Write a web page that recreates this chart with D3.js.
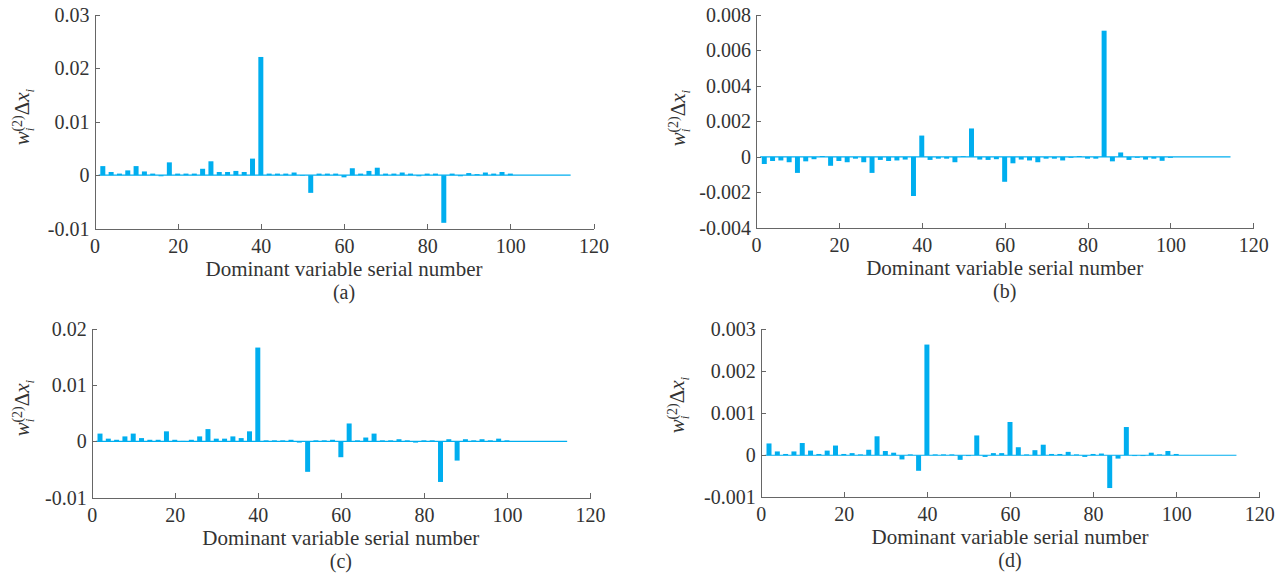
<!DOCTYPE html>
<html>
<head>
<meta charset="utf-8">
<script src="https://cdn.jsdelivr.net/npm/d3@7"></script>
<style>
  body { margin: 0; background: #fff; }
  svg { display: block; }
  .axis path, .axis line { stroke: #666; shape-rendering: crispEdges; }
  .axis text { fill: #333; }
  .title, .ylabel { fill: #333; }
</style>
</head>
<body>
<svg class="plot"></svg>
<script>
const width = 1283, height = 576;
const serif = "Liberation Serif";

// serial numbers of the dominant variables (same for all four panels)
const serials = [2, 4, 6, 8, 10, 12, 14, 16, 18, 20, 22, 24, 26, 28, 30, 32, 34, 36, 38, 40,
                 42, 44, 46, 48, 50, 52, 54, 56, 58, 60, 62, 64, 66, 68, 70, 72, 74, 76, 78, 80,
                 82, 84, 86, 88, 90, 92, 94, 96, 98, 100];

const valuesA = [0.0017, 0.0006, 0.0003, 0.0009, 0.0017, 0.0007, 0.0003, -0.0002, 0.0024, 0.0003,
                 0.0003, 0.0003, 0.0012, 0.0026, 0.0006, 0.0006, 0.0008, 0.0006, 0.0031, 0.0221,
                 0.0003, 0.0003, 0.0003, 0.0005, -0.0001, -0.0033, 0.0003, 0.0003, 0.0003, -0.0004,
                 0.0013, 0.0003, 0.0008, 0.0014, 0.0003, 0.0003, 0.0005, 0.0003, -0.0002, 0.0003,
                 0.0003, -0.0089, 0.0003, -0.0002, 0.0004, 0.0002, 0.0005, 0.0003, 0.0006, 0.0003];

const valuesB = [-0.0004, -0.00023, -0.0002, -0.0003, -0.0009, -0.00025, -0.00013, 0.00005, -0.0005, -0.00023,
                 -0.0003, -0.0001, -0.0003, -0.0009, -0.00017, -0.00023, -0.0002, -0.00015, -0.0022, 0.0012,
                 -0.00017, -0.0001, -0.0001, -0.0003, 0.00004, 0.0016, -0.00015, -0.00017, -0.00013, -0.0014,
                 -0.00036, -0.00015, -0.0002, -0.0003, -0.0001, -0.0001, -0.0002, -0.00005, 0.00005, -0.0001,
                 -0.0001, 0.0071, -0.00025, 0.00025, -0.00017, -0.00005, -0.00015, -0.0001, -0.00022, -0.00005];

const valuesC = [0.0014, 0.0005, 0.0003, 0.0009, 0.0014, 0.0006, 0.0003, 0.0003, 0.0018, 0.0003,
                 0.0001, 0.0003, 0.0009, 0.0022, 0.0005, 0.0005, 0.0009, 0.0006, 0.0018, 0.0167,
                 0.0002, 0.0002, 0.0002, 0.0003, -0.0002, -0.0054, 0.0002, 0.0002, 0.0003, -0.0028,
                 0.0032, 0.0002, 0.0007, 0.0014, 0.0002, 0.0002, 0.0004, 0.0002, -0.0002, 0.0002,
                 0.0002, -0.0072, 0.0004, -0.0034, 0.0004, 0.0002, 0.0004, 0.0002, 0.0005, 0.0002];

const valuesD = [0.00028, 0.00009, 0.00003, 0.00009, 0.00029, 0.00011, 0.00003, 0.00011, 0.00023, 0.00003,
                 0.00005, 0.00002, 0.00013, 0.00045, 0.0001, 0.00006, -0.0001, 0.00002, -0.00037, 0.00263,
                 0.00002, 0.00002, 0.00002, -0.00011, -0.00002, 0.00047, -0.00004, 0.00005, 0.00005, 0.00079,
                 0.00019, 0.00002, 0.00012, 0.00025, 0.00003, 0.00003, 0.00008, 0.00002, -0.00004, 0.00003,
                 0.00004, -0.00078, -0.00008, 0.00067, -0.00002, -0.00002, 0.00006, 0.00002, 0.0001, 0.00003];

// tick values
const xTicks = [0, 20, 40, 60, 80, 100, 120];
const yTicksA = [-0.01, 0, 0.01, 0.02, 0.03];
const yTicksB = [-0.004, -0.002, 0, 0.002, 0.004, 0.006, 0.008];
const yTicksC = [-0.01, 0, 0.01, 0.02];
const yTicksD = [-0.001, 0, 0.001, 0.002, 0.003];

const panelLabels = ["(a)", "(b)", "(c)", "(d)"];
const xTitle = "Dominant variable serial number";

const barColor = "#00aeef";
const barWidth = 1.2;        // in serial-number units
const baseStart = 1, baseEnd = 114.5;

let svg = d3.select(".plot")
            .attr("width", width)
            .attr("height", height);

svg.append("rect")
   .attr("width", width)
   .attr("height", height)
   .attr("fill", "#fff");

// panel geometry: left/right of x-axis, top/bottom of y-axis, y label offset
let panels = [
  {values: valuesA, ticks: yTicksA, left: 94.5, right: 593.5, top: 14.7, bottom: 228.7, labOff: 66, labY: 117},
  {values: valuesB, ticks: yTicksB, left: 756, right: 1253.3, top: 14.7, bottom: 228, labOff: 71, labY: 118},
  {values: valuesC, ticks: yTicksC, left: 91.7, right: 590, top: 329, bottom: 497.7, labOff: 63, labY: 408},
  {values: valuesD, ticks: yTicksD, left: 760.7, right: 1259.3, top: 329, bottom: 497.3, labOff: 77, labY: 405}
];

function fmt(v) {
  if (v === 0) return "0";
  return String(+v.toFixed(4));
}

panels.forEach((p, i) => {
  let x = d3.scaleLinear().domain([0, 120]).range([p.left, p.right]);
  let y = d3.scaleLinear().domain(d3.extent(p.ticks)).range([p.bottom, p.top]);
  let data = serials.map((s, k) => ({s: s, v: p.values[k]}));

  let g = svg.append("g").attr("class", "panel");

  // zero line
  g.append("line")
   .attr("x1", x(baseStart))
   .attr("x2", x(baseEnd))
   .attr("y1", y(0))
   .attr("y2", y(0))
   .attr("stroke", barColor)
   .attr("stroke-width", 1.2);

  // bars
  g.selectAll(".bar")
   .data(data)
   .enter().append("rect")
   .attr("class", "bar")
   .attr("x", (d) => x(d.s - barWidth / 2))
   .attr("width", x(barWidth) - x(0))
   .attr("y", (d) => y(Math.max(0, d.v)))
   .attr("height", (d) => Math.abs(y(d.v) - y(0)))
   .attr("fill", barColor);

  // x-Axis
  g.append("g")
   .attr("class", "axis")
   .attr("transform", "translate(0," + p.bottom + ")")
   .call(d3.axisBottom(x)
           .tickValues(xTicks)
           .tickSizeInner(-5)
           .tickSizeOuter(0)
           .tickPadding(10)
           .tickFormat(d3.format("d")))
   .attr("font-family", serif)
   .attr("font-size", 20);

  // y-Axis
  g.append("g")
   .attr("class", "axis")
   .attr("transform", "translate(" + p.left + ",0)")
   .call(d3.axisLeft(y)
           .tickValues(p.ticks)
           .tickSizeInner(-5)
           .tickSizeOuter(0)
           .tickPadding(5)
           .tickFormat(fmt))
   .attr("font-family", serif)
   .attr("font-size", 20);

  // x-Axis title and panel label
  let cx = (p.left + p.right) / 2;
  g.append("text")
   .attr("class", "title")
   .attr("x", cx)
   .attr("y", p.bottom + 47)
   .attr("text-anchor", "middle")
   .attr("font-family", serif)
   .attr("font-size", 21)
   .text(xTitle);

  g.append("text")
   .attr("class", "title")
   .attr("x", cx)
   .attr("y", p.bottom + 70)
   .attr("text-anchor", "middle")
   .attr("font-family", serif)
   .attr("font-size", 20)
   .text(panelLabels[i]);

  // y-Axis label: w_i^(2) Δx_i
  let lab = g.append("text")
             .attr("class", "ylabel")
             .attr("transform", "translate(" + (p.left - p.labOff) + "," + p.labY + ") rotate(-90)")
             .attr("text-anchor", "middle")
             .attr("font-family", serif)
             .attr("font-size", 21);
  lab.append("tspan").attr("font-style", "italic").text("w");
  lab.append("tspan").attr("font-style", "italic").attr("font-size", 13).attr("dy", 5).text("i");
  lab.append("tspan").attr("font-size", 14).attr("dx", -4).attr("dy", -12).text("(2)");
  lab.append("tspan").attr("dy", 7).text("\u0394");
  lab.append("tspan").attr("font-style", "italic").text("x");
  lab.append("tspan").attr("font-style", "italic").attr("font-size", 13).attr("dy", 5).text("i");
});
</script>
</body>
</html>
